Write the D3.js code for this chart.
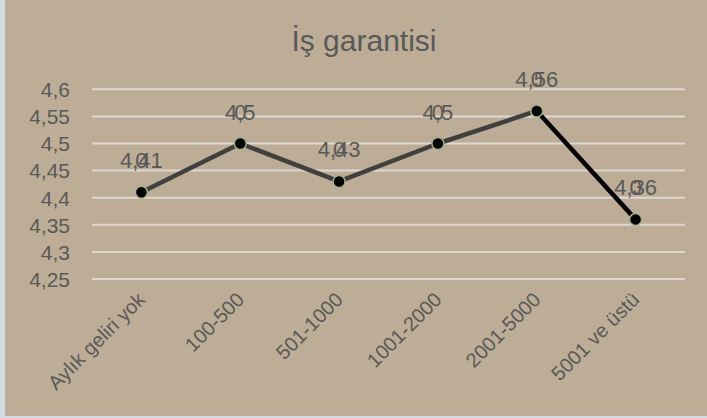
<!DOCTYPE html>
<html>
<head>
<meta charset="utf-8">
<script src="https://cdn.jsdelivr.net/npm/d3@7"></script>
<style>
  html, body { margin: 0; padding: 0; background: #d6dce4; }
  #chart { width: 707px; height: 418px; }
  text { font-family: "Liberation Sans", Arial, sans-serif; fill: #595959; }
</style>
</head>
<body>
<div id="chart"></div>
<script>
var categories = ["Aylık geliri yok", "100-500", "501-1000", "1001-2000", "2001-5000", "5001 ve üstü"];
var values = [4.41, 4.5, 4.43, 4.5, 4.56, 4.36];
// second (hidden) series, only its labels show up on top of the first ones
var hiddenValues = [0, 0, 0, 0, 0, 0];
var yTicks = [4.25, 4.3, 4.35, 4.4, 4.45, 4.5, 4.55, 4.6];

(function() {
  var width = 707,
      height = 418;

  var svg = d3.select("#chart")
    .append("svg")
    .attr("width", width)
    .attr("height", height);

  // chart area (light strip left and bottom stays visible)
  svg.append("rect")
    .attr("x", 5)
    .attr("y", 0)
    .attr("width", width - 5)
    .attr("height", 416)
    .attr("fill", "#bdad96");

  var comma = function(v) { return String(v).replace(".", ","); };

  var x = d3.scalePoint()
    .domain(categories)
    .range([92, 685])
    .padding(0.5);

  var y = d3.scaleLinear()
    .domain([4.25, 4.6])
    .range([279, 89.3]);

  svg.append("text")
    .attr("x", 364)
    .attr("y", 51)
    .attr("text-anchor", "middle")
    .style("font-size", "30px")
    .text("İş garantisi");

  // gridlines
  svg.selectAll(".grid")
    .data(yTicks)
    .enter().append("line")
    .attr("class", "grid")
    .attr("x1", 92)
    .attr("x2", 685)
    .attr("y1", function(d) { return y(d); })
    .attr("y2", function(d) { return y(d); })
    .attr("stroke", "#ddd8d0")
    .attr("stroke-width", 2);

  // y axis labels
  var yAxis = d3.axisLeft(y)
    .tickValues(yTicks)
    .tickSize(0)
    .tickPadding(0)
    .tickFormat(comma);

  var gy = svg.append("g")
    .attr("transform", "translate(70,0)")
    .call(yAxis);
  gy.select(".domain").remove();
  gy.selectAll("text")
    .attr("dy", "0.35em")
    .style("font-size", "21px")
    .style("font-family", "'Liberation Sans', Arial, sans-serif")
    .attr("fill", "#595959");

  // x axis labels
  svg.selectAll(".xlab")
    .data(categories)
    .enter().append("text")
    .attr("class", "xlab")
    .attr("text-anchor", "end")
    .attr("transform", function(d) {
      return "translate(" + (x(d) + 5) + ",301) rotate(-45)";
    })
    .style("font-size", "20px")
    .text(function(d) { return d; });

  var pts = categories.map(function(c, i) { return [x(c), y(values[i])]; });

  // line: grey segments, last one black
  for (var i = 0; i < pts.length - 1; i++) {
    svg.append("path")
      .attr("d", d3.line()([pts[i], pts[i + 1]]))
      .attr("fill", "none")
      .attr("stroke", i === pts.length - 2 ? "#000000" : "#404040")
      .attr("stroke-width", 4.5)
      .attr("stroke-linecap", "round");
  }

  svg.selectAll(".dot")
    .data(values)
    .enter().append("circle")
    .attr("class", "dot")
    .attr("cx", function(d, i) { return x(categories[i]); })
    .attr("cy", function(d) { return y(d); })
    .attr("r", 6)
    .attr("fill", "#000000")
    .attr("stroke", "#9cb388")
    .attr("stroke-width", 1.5);

  // data labels
  svg.selectAll(".lab")
    .data(values)
    .enter().append("text")
    .attr("class", "lab")
    .attr("text-anchor", "middle")
    .attr("x", function(d, i) { return x(categories[i]); })
    .attr("y", function(d) { return y(d) - 24; })
    .style("font-size", "22px")
    .text(comma);

  svg.selectAll(".lab2")
    .data(hiddenValues)
    .enter().append("text")
    .attr("class", "lab2")
    .attr("text-anchor", "middle")
    .attr("x", function(d, i) { return x(categories[i]); })
    .attr("y", function(d, i) { return y(values[i]) - 24; })
    .style("font-size", "22px")
    .text(comma);
})();
</script>
</body>
</html>
